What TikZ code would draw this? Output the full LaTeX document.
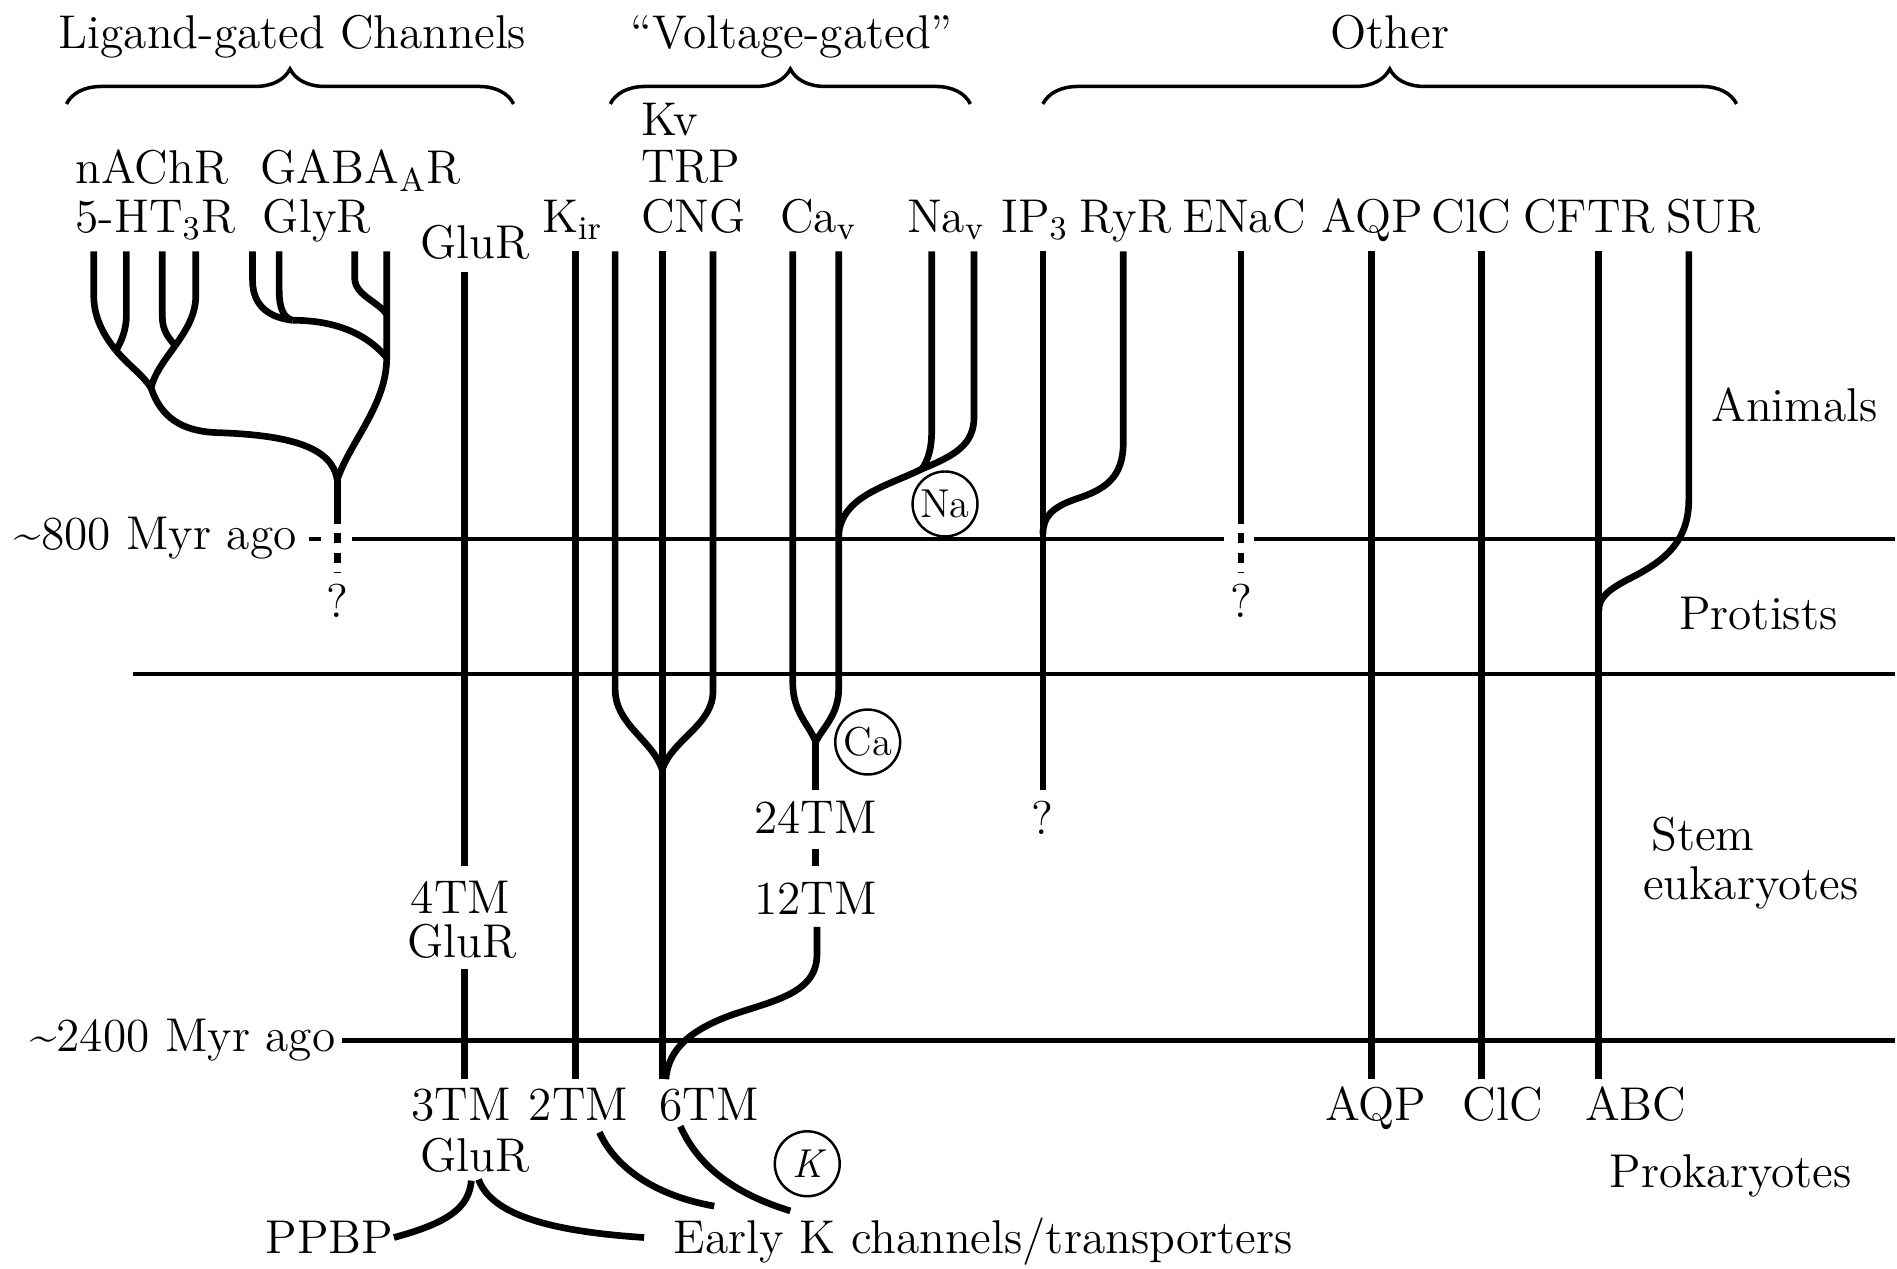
\documentclass[tikz,border=0pt]{standalone}
\usepackage{fontspec}
\usetikzlibrary{decorations.pathreplacing,calc}
\newcommand{\figfont}{\fontsize{13.5}{16}\selectfont}
\newcommand{\ionfont}{\fontsize{11.5}{13}\selectfont}

\begin{document}
\begin{tikzpicture}[x=0.121mm, y=-0.121mm,
        branch/.style={line width=1.9pt, line join=round},
        epoch/.style={line width=1.2pt},
        unknown/.style={line width=1.9pt, dash pattern=on 3pt off 2.6pt},
        lbl/.style={font=\figfont, inner sep=0pt},
        ion/.style={draw, circle, line width=0.7pt, minimum size=6.5mm, inner sep=0pt, font=\ionfont},
        group/.style={decorate, decoration={brace, amplitude=3.5mm}, line width=1pt}
    ]
        \path[fill=white] (0,0) rectangle (1568,1050);

        % 1. Group headings
        \node[lbl, anchor=base] (ligand) at (242,40) {Ligand-gated Channels};
        \node[lbl, anchor=base] (voltage) at (655,40) {``Voltage-gated''};
        \node[lbl, anchor=base] (other) at (1150,40) {Other};
        \draw[group] (55,86) -- (425,86);
        \draw[group] (505,86) -- (803,86);
        \draw[group] (863,86) -- (1437,86);

        % 2. Channel families
        \node[lbl, anchor=base west] (nachr) at (62,152) {nAChR};
        \node[lbl, anchor=base west] (htr) at (62,192) {5-HT\textsubscript{3}R};
        \node[lbl, anchor=base west] (gabar) at (215,152) {GABA\textsubscript{A}R};
        \node[lbl, anchor=base west] (glyr) at (217,192) {GlyR};
        \node[lbl, anchor=base] (glur) at (393,214) {GluR};
        \node[lbl, anchor=base west] (kir) at (448,192) {K\textsubscript{ir}};
        \node[lbl, anchor=base west] (kv) at (530,112) {Kv};
        \node[lbl, anchor=base west] (trp) at (530,151) {TRP};
        \node[lbl, anchor=base west] (cng) at (530,192) {CNG};
        \node[lbl, anchor=base west] (cav) at (645,192) {Ca\textsubscript{v}};
        \node[lbl, anchor=base west] (nav) at (750,192) {Na\textsubscript{v}};
        \node[lbl, anchor=base west] (ipr) at (828,192) {IP\textsubscript{3}};
        \node[lbl, anchor=base west] (ryr) at (893,192) {RyR};
        \node[lbl, anchor=base west] (enac) at (978,192) {ENaC};
        \node[lbl, anchor=base west] (aqp) at (1093,192) {AQP};
        \node[lbl, anchor=base west] (clc) at (1184,192) {ClC};
        \node[lbl, anchor=base west] (cftr) at (1260,192) {CFTR};
        \node[lbl, anchor=base west] (sur) at (1378,192) {SUR};

        % 3. Time lines and eras
        \node[lbl, anchor=base east] (myrA) at (246,455) {\textasciitilde800 Myr ago};
        \node[lbl, anchor=base east] (myrB) at (278,870) {\textasciitilde2400 Myr ago};
        \draw[epoch] (256,446) -- (266,446);
        \draw[epoch] (291,446) -- (1013,446);
        \draw[epoch] (1038,446) -- (1568,446);
        \draw[epoch] (110,558) -- (1568,558);
        \draw[epoch] (283,861) -- (1568,861);
        \node[lbl] (animals) at (1485,335) {Animals};
        \node[lbl] (protists) at (1455,508) {Protists};
        \node[lbl, anchor=base west] (stem) at (1366,704) {Stem};
        \node[lbl, anchor=base west] (euk) at (1359,744) {eukaryotes};
        \node[lbl] (prok) at (1432,973) {Prokaryotes};

        % 4. Ligand-gated tree
        \coordinate (nA) at (96,290);
        \coordinate (nB) at (145,286);
        \coordinate (nC) at (125,321);
        \coordinate (gA) at (242,265);
        \coordinate (lroot) at (279,397);
        \draw[branch] (77.6,208) -- (77.6,245) .. controls (77.6,265) and (88,280) .. (nA);
        \draw[branch] (104.6,208) -- (104.6,260) .. controls (104.6,274) and (100,283) .. (nA);
        \draw[branch] (134.3,208) -- (134.3,262) .. controls (134.3,274) and (140,280) .. (nB);
        \draw[branch] (162,208) -- (162,245) .. controls (162,262) and (152,276) .. (nB);
        \draw[branch] (nA) .. controls (106,302) and (118,310) .. (nC);
        \draw[branch] (nB) .. controls (138,296) and (128,308) .. (nC);
        \draw[branch] (nC) .. controls (133,345) and (150,357) .. (180,358)
            .. controls (240,360) and (275,370) .. (lroot);
        \draw[branch] (209,208) -- (209,232) .. controls (209,254) and (224,263) .. (gA);
        \draw[branch] (231,208) -- (231,240) .. controls (231,256) and (235,263) .. (gA);
        \draw[branch] (gA) .. controls (270,265) and (300,272) .. (320,296);
        \draw[branch] (293.5,208) -- (293.5,230) .. controls (293.5,244) and (312,249) .. (320,260);
        \draw[branch] (320,208) -- (320,296) .. controls (320,335) and (290,365) .. (lroot);
        \draw[branch] (lroot) -- (279,434);
        \draw[unknown] (279,441) -- (279,474);
        \node[lbl] (lq) at (279,497) {?};

        % 5. GluR and Kir
        \node[lbl, anchor=base] (tmD) at (381,756) {4TM};
        \node[lbl, anchor=base] (glurD) at (382,792) {GluR};
        \draw[branch] (384.6,225) -- (384.6,717);
        \draw[branch] (384.6,802) -- (384.6,893);
        \draw[branch] (476,208) -- (476,893);

        % 6. Voltage-gated tree
        \coordinate (vK) at (548,637);
        \coordinate (vCa) at (675,614);
        \coordinate (vNa) at (763,388);
        \draw[branch] (509,208) -- (509,570) .. controls (509,600) and (540,612) .. (vK);
        \draw[branch] (590,208) -- (590,572) .. controls (590,600) and (556,612) .. (vK);
        \draw[branch] (548,208) -- (548,893);
        \draw[branch] (656,208) -- (656,565) .. controls (656,590) and (670,600) .. (vCa);
        \draw[branch] (694,208) -- (694,570) .. controls (694,592) and (680,603) .. (vCa);
        \draw[branch] (vCa) -- (675,654);
        \draw[branch] (771,208) -- (771,355) .. controls (771,372) and (768,380) .. (vNa);
        \draw[branch] (806,208) -- (806,345) .. controls (806,368) and (790,377) .. (vNa);
        \draw[branch] (vNa) .. controls (735,402) and (697,410) .. (694,442);
        \node[lbl, anchor=base] (tmC) at (675,690) {24TM};
        \node[lbl, anchor=base] (tmB) at (675,757) {12TM};
        \draw[branch] ([yshift=-1.4mm]tmC.south) -- ([yshift=1.6mm]tmB.north);
        \draw[branch] (676,767) -- (676,790) .. controls (676,822) and (640,828) .. (605,840)
            .. controls (575,851) and (553,866) .. (551,893);
        \node[ion] (na) at (782,417) {Na};
        \node[ion] (ca) at (718,614) {Ca};
        \node[ion, font=\ionfont\itshape] (k) at (668,963) {K};

        % 7. Other channels
        \draw[branch] (863,208) -- (863,654);
        \node[lbl] (iq) at (863,677) {?};
        \draw[branch] (929.5,208) -- (929.5,366) .. controls (929.5,395) and (915,405) .. (890,413)
            .. controls (870,420) and (863,428) .. (863,442);
        \draw[branch] (1027,208) -- (1027,434);
        \draw[unknown] (1027,441) -- (1027,474);
        \node[lbl] (eq) at (1027,497) {?};
        \draw[branch] (1135,208) -- (1135,893);
        \draw[branch] (1226,208) -- (1226,893);
        \draw[branch] (1322.6,208) -- (1322.6,893);
        \draw[branch] (1397.5,208) -- (1397.5,413) .. controls (1397.5,450) and (1375,465) .. (1350,478)
            .. controls (1330,488) and (1323,495) .. (1323,505);

        % 8. Prokaryote ancestors
        \node[lbl, anchor=base west] (tmE) at (340,927) {3TM};
        \node[lbl, anchor=base west] (glurE) at (347,969) {GluR};
        \node[lbl, anchor=base west] (tmF) at (437,927) {2TM};
        \node[lbl, anchor=base west] (tmG) at (545,927) {6TM};
        \node[lbl, anchor=base west] (aqpE) at (1096,927) {AQP};
        \node[lbl, anchor=base west] (clcE) at (1210,927) {ClC};
        \node[lbl, anchor=base west] (abc) at (1311,927) {ABC};
        \node[lbl, anchor=east] (ppbp) at (326,1024) {PPBP};
        \node[lbl, anchor=base west] (earlyk) at (557,1037) {Early K channels/transporters};
        \draw[branch] (496,937) .. controls (510,968) and (545,990) .. (591,998);
        \draw[branch] (563,932) .. controls (580,970) and (615,990) .. (654,1002);
        \draw[branch] (390,977) .. controls (388,1000) and (370,1012) .. (ppbp.east);
        \draw[branch] (396,976) .. controls (405,1000) and (440,1018) .. (533,1024);

    \end{tikzpicture}
\end{document}
